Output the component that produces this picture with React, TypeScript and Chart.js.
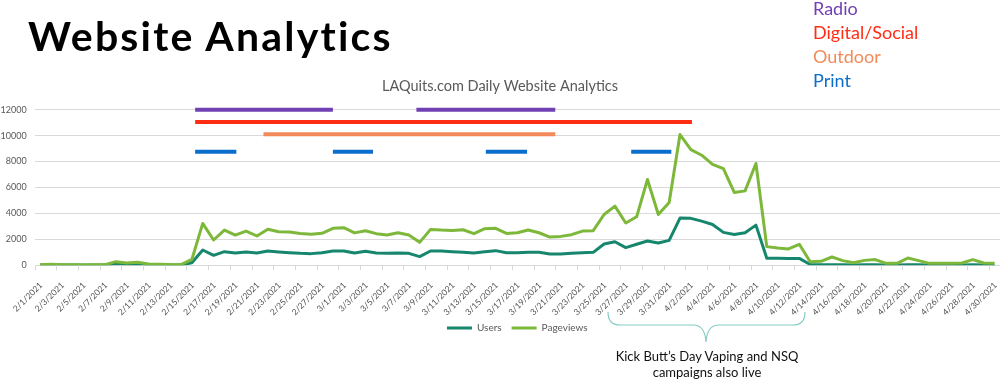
import React, { useEffect, useRef } from "react";
import { Chart, registerables } from "chart.js";
Chart.register(...registerables);

const dates = [
  "2/1/2021","2/2/2021","2/3/2021","2/4/2021","2/5/2021","2/6/2021","2/7/2021","2/8/2021","2/9/2021","2/10/2021",
  "2/11/2021","2/12/2021","2/13/2021","2/14/2021","2/15/2021","2/16/2021","2/17/2021","2/18/2021","2/19/2021","2/20/2021",
  "2/21/2021","2/22/2021","2/23/2021","2/24/2021","2/25/2021","2/26/2021","2/27/2021","2/28/2021",
  "3/1/2021","3/2/2021","3/3/2021","3/4/2021","3/5/2021","3/6/2021","3/7/2021","3/8/2021","3/9/2021","3/10/2021",
  "3/11/2021","3/12/2021","3/13/2021","3/14/2021","3/15/2021","3/16/2021","3/17/2021","3/18/2021","3/19/2021","3/20/2021",
  "3/21/2021","3/22/2021","3/23/2021","3/24/2021","3/25/2021","3/26/2021","3/27/2021","3/28/2021","3/29/2021","3/30/2021","3/31/2021",
  "4/1/2021","4/2/2021","4/3/2021","4/4/2021","4/5/2021","4/6/2021","4/7/2021","4/8/2021","4/9/2021","4/10/2021",
  "4/11/2021","4/12/2021","4/13/2021","4/14/2021","4/15/2021","4/16/2021","4/17/2021","4/18/2021","4/19/2021","4/20/2021",
  "4/21/2021","4/22/2021","4/23/2021","4/24/2021","4/25/2021","4/26/2021","4/27/2021","4/28/2021","4/29/2021","4/30/2021",
];

const users = [
  30, 40, 30, 20, 20, 20, 30, 110, 80, 100, 50, 40, 30, 30,
  200, 1180, 770, 1050, 950, 1030, 950, 1100, 1030, 970, 920, 900, 970, 1100,
  1100, 950, 1080, 950, 920, 950, 920, 670, 1100, 1100, 1050, 1000, 950, 1050,
  1130, 970, 970, 1000, 1000, 870, 870, 920, 970, 1000, 1640, 1820, 1360, 1620,
  1870, 1720, 1920, 3640, 3620, 3410, 3150, 2540, 2380, 2510, 3100, 540, 540, 530,
  530, 60, 40, 50, 40, 30, 40, 40, 30, 30, 50, 40, 30, 30, 30, 30, 50, 30, 30,
];

const pageviews = [
  50, 80, 50, 40, 30, 40, 50, 280, 180, 230, 100, 90, 60, 50,
  450, 3230, 1950, 2720, 2330, 2640, 2260, 2780, 2590, 2560, 2460, 2400, 2470, 2850,
  2900, 2500, 2670, 2440, 2330, 2510, 2330, 1770, 2770, 2720, 2690, 2740, 2440, 2820,
  2850, 2460, 2510, 2720, 2510, 2180, 2230, 2360, 2640, 2670, 3920, 4560, 3260, 3740,
  6620, 3920, 4850, 10080, 8920, 8490, 7790, 7460, 5620, 5740, 7850, 1440, 1330, 1260,
  1620, 280, 310, 640, 360, 200, 380, 440, 150, 150, 560, 360, 150, 150, 150, 180, 440, 180, 150,
];

const yTicks = [0, 2000, 4000, 6000, 8000, 10000, 12000];

// campaign flights, as [start day index, end day index] (fractional = part of a day)
const radioRuns = [[14.3, 27.0], [34.7, 47.5]];
const radioLevel = 12000;
const digitalRuns = [[14.3, 60.1]];
const digitalLevel = 11050;
const outdoorRuns = [[20.6, 47.5]];
const outdoorLevel = 10100;
const printRuns = [[14.3, 18.1], [27.0, 30.7], [41.1, 44.9], [54.5, 58.2]];
const printLevel = 8750;

const campaignLabels = ["Radio", "Digital/Social", "Outdoor", "Print"];
const campaignColors = ["#7040B4", "#FF2D14", "#F28A5A", "#0A6ECC"];

function runsToPoints(runs: number[][], level: number) {
  const pts: { x: number; y: number | null }[] = [];
  runs.forEach((r, i) => {
    if (i > 0) pts.push({ x: (runs[i - 1][1] + r[0]) / 2, y: null });
    pts.push({ x: r[0], y: level });
    pts.push({ x: r[1], y: level });
  });
  return pts;
}

const tickMarks = {
  id: "tickMarks",
  afterDraw(chart: any) {
    const xs = chart.scales.x;
    const ctx = chart.ctx;
    const bottom = chart.chartArea.bottom;
    ctx.save();
    ctx.strokeStyle = "#D9D9D9";
    ctx.lineWidth = 1;
    for (let v = -0.5; v < dates.length; v += 2) {
      const px = Math.round(xs.getPixelForValue(v)) + 0.5;
      ctx.beginPath();
      ctx.moveTo(px, bottom);
      ctx.lineTo(px, bottom + 5);
      ctx.stroke();
    }
    ctx.restore();
  },
};

export default function App() {
  const ref = useRef<HTMLCanvasElement | null>(null);
  useEffect(() => {
    if (!ref.current) return;
    Chart.defaults.font.family = "Lato";
    const lineDs = (label: string, data: number[], color: string, order: number) => ({
      type: "line" as const,
      label,
      data: data.map((v, i) => ({ x: i, y: v })),
      borderColor: color,
      backgroundColor: color,
      borderWidth: 3,
      pointRadius: 0,
      pointStyle: "line",
      tension: 0,
      borderJoinStyle: "round" as const,
      order,
    });
    const campDs = (label: string, runs: number[][], level: number, color: string) => ({
      type: "line" as const,
      label,
      data: runsToPoints(runs, level),
      borderColor: color,
      backgroundColor: color,
      borderWidth: 4,
      pointRadius: 0,
      spanGaps: false,
      clip: false as any,
      order: 0,
    });
    const chart = new Chart(ref.current, {
      type: "line",
      data: {
        datasets: [
          lineDs("Users", users, "#16876D", 2),
          lineDs("Pageviews", pageviews, "#7DB83A", 1),
          campDs(campaignLabels[0], radioRuns, radioLevel, campaignColors[0]),
          campDs(campaignLabels[1], digitalRuns, digitalLevel, campaignColors[1]),
          campDs(campaignLabels[2], outdoorRuns, outdoorLevel, campaignColors[2]),
          campDs(campaignLabels[3], printRuns, printLevel, campaignColors[3]),
        ] as any,
      },
      options: {
        responsive: false,
        animation: false,
        devicePixelRatio: 1,
        layout: { padding: { top: 78, left: 0, right: 0, bottom: 39 } },
        plugins: {
          title: {
            display: true,
            text: "LAQuits.com Daily Website Analytics",
            color: "#595959",
            font: { size: 14.5, weight: "normal" as any, family: "Lato" },
            padding: { top: 0, bottom: 14.3 },
          },
          legend: {
            display: true,
            position: "bottom",
            fullSize: false,
            labels: {
              color: "#595959",
              font: { size: 10, family: "Lato" },
              usePointStyle: true,
              pointStyleWidth: 25,
              padding: 10,
              filter: (item: any) => item.datasetIndex < 2,
              sort: (a: any, b: any) => a.datasetIndex - b.datasetIndex,
            },
          },
          tooltip: { enabled: false },
        },
        scales: {
          x: {
            type: "linear",
            min: -0.5,
            max: dates.length - 0.5,
            grid: { display: false },
            border: { display: false },
            afterFit: (s: any) => {
              s.height = 47.7;
              s.paddingLeft = 0;
              s.paddingRight = 0;
              s._computeLabelArea = () => undefined;
            },
            ticks: {
              stepSize: 2,
              includeBounds: false,
              autoSkip: false,
              minRotation: 45,
              maxRotation: 45,
              padding: 7,
              labelOffset: 1,
              color: "#505050",
              font: { size: 8.5, family: "Lato" },
              callback: (v: any) => (Number.isInteger(v) ? dates[v] : null),
            },
          },
          y: {
            type: "linear",
            min: 0,
            max: 12000,
            afterFit: (s: any) => {
              s.width = 34.6;
            },
            afterBuildTicks: (s: any) => {
              s.ticks = yTicks.map((v) => ({ value: v }));
            },
            grid: { color: "#D9D9D9", lineWidth: 1, drawTicks: false },
            border: { display: false },
            ticks: {
              padding: 8,
              color: "#595959",
              font: { size: 9, family: "Lato" },
              callback: (v: any) => String(v),
            },
          },
        },
      },
      plugins: [tickMarks],
    });
    return () => chart.destroy();
  }, []);

  return (
    <div style={{ position: "fixed", left: 0, top: 0, width: 1000, height: 382, background: "#fff", overflow: "hidden" }}>
      <canvas ref={ref} width={1000} height={382} style={{ position: "absolute", left: 0, top: 0, width: 1000, height: 382 }} />
      <div style={{ position: "absolute", left: 28, top: 15.3, fontFamily: "Lato", fontWeight: 700, fontSize: 41, lineHeight: "41px", letterSpacing: 2.2, color: "#000", whiteSpace: "nowrap" }}>
        Website Analytics
      </div>
      <div style={{ position: "absolute", left: 813, top: -4.2, fontFamily: "Lato", fontSize: 18, lineHeight: "24px", whiteSpace: "nowrap" }}>
        {campaignLabels.map((l, i) => (
          <div key={l} style={{ color: campaignColors[i] }}>{l}</div>
        ))}
      </div>
      <svg width={1000} height={382} style={{ position: "absolute", left: 0, top: 0 }}>
        <path d="M 608 312 Q 608 325 620 325 L 693 325 Q 705 325 706 342 Q 707 325 719 325 L 793 325 Q 805 325 805 312" fill="none" stroke="#86CBC3" strokeWidth={1.2} />
      </svg>
      <div style={{ position: "absolute", left: 557, top: 348, width: 300, textAlign: "center", fontFamily: "Lato", fontSize: 13, lineHeight: "16px", color: "#111" }}>
        <div>Kick Butt’s Day Vaping and NSQ</div>
        <div>campaigns also live</div>
      </div>
    </div>
  );
}
